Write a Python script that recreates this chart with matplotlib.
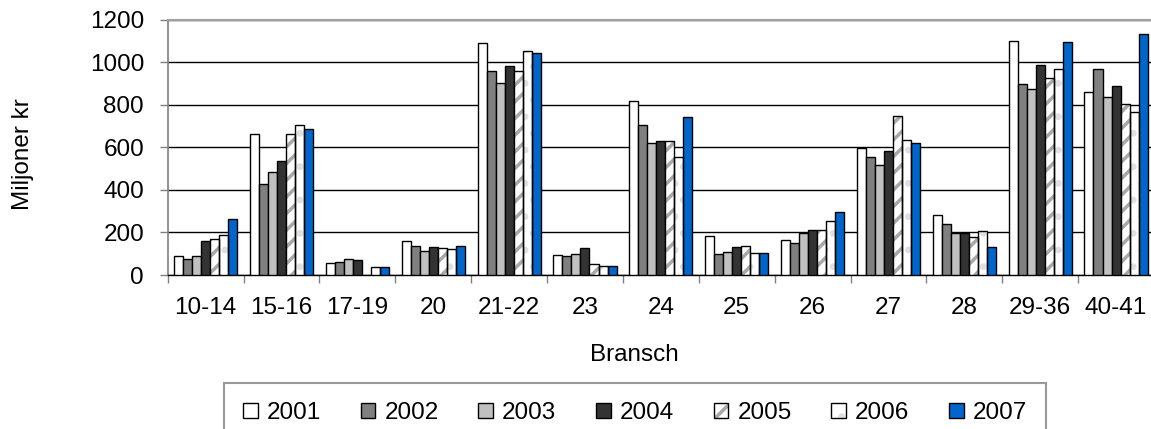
import numpy as np
import matplotlib
matplotlib.use("Agg")
import matplotlib.pyplot as plt
from matplotlib.patches import Patch

plt.rcParams['font.family'] = ['Liberation Sans', 'DejaVu Sans']
plt.rcParams['hatch.linewidth'] = 2.5

categories = ["10-14", "15-16", "17-19", "20", "21-22", "23", "24", "25", "26", "27", "28", "29-36", "40-41"]
years = ["2001", "2002", "2003", "2004", "2005", "2006", "2007"]

v2001 = [88, 661, 56, 158, 1089, 94, 819, 182, 163, 598, 282, 1101, 862]
v2002 = [75, 429, 63, 138, 957, 88, 703, 99, 149, 553, 238, 899, 970]
v2003 = [88, 484, 77, 113, 901, 100, 622, 107, 199, 515, 199, 874, 837]
v2004 = [158, 536, 69, 132, 981, 125, 628, 132, 213, 584, 199, 987, 887]
v2005 = [171, 661, np.nan, 125, 957, 50, 628, 138, 213, 749, 180, 924, 804]
v2006 = [190, 705, 38, 121, 1051, 42, 555, 105, 252, 634, 208, 970, 768]
v2007 = [265, 686, 38, 138, 1045, 42, 743, 105, 296, 622, 132, 1095, 1133]
series = [v2001, v2002, v2003, v2004, v2005, v2006, v2007]

faces = ['white', '#808080', '#c0c0c0', '#333333', 'white', 'white', '#0066cc']
hatches = [None, None, None, None, '//', '.', None]
hatch_cols = [None, None, None, None, '#a8a8a8', '#e0e0e0', None]

W, H = 1151, 429
fig = plt.figure(figsize=(W / 100, H / 100), dpi=100)
ax = fig.add_axes([167.7 / W, (H - 275) / H, (1154 - 167.7) / W, (275 - 19.7) / H])

x = np.arange(len(categories))
bw = 0.119
handles = []
for j, (vals, fc, ht, hc) in enumerate(zip(series, faces, hatches, hatch_cols)):
    pos = x + (j - 3) * bw
    if ht is None:
        ax.bar(pos, vals, width=bw, color=fc, edgecolor='black', linewidth=1.0, zorder=3)
        handles.append(Patch(facecolor=fc, edgecolor='black', linewidth=1.0))
    else:
        ax.bar(pos, vals, width=bw, color=fc, edgecolor=hc, linewidth=0, hatch=ht, zorder=3)
        ax.bar(pos, vals, width=bw, fill=False, edgecolor='black', linewidth=1.0, zorder=4)
        handles.append((Patch(facecolor=fc, edgecolor=hc, linewidth=0, hatch=ht),
                        Patch(fill=False, edgecolor='black', linewidth=1.0)))

ax.set_xlim(-0.5, len(categories) - 0.5)
ax.set_ylim(0, 1200)
ax.set_yticks(np.arange(0, 1201, 200))
ax.yaxis.grid(True, color='black', linewidth=1.0, zorder=0)
ax.set_axisbelow(True)

ax.set_xticks(np.arange(len(categories) + 1) - 0.5)
ax.set_xticklabels([])
ax.set_xticks(x, minor=True)
ax.set_xticklabels(categories, minor=True)
ax.tick_params(axis='x', which='major', length=6, width=1.0, color='#808080', direction='out')
ax.tick_params(axis='x', which='minor', length=0, pad=16, labelsize=17.5)
ax.tick_params(axis='y', which='major', length=6, width=1.0, color='#808080', pad=11, labelsize=17.5)

ax.spines['right'].set_visible(False)
ax.spines['top'].set_color('#a0a0a0')
ax.spines['top'].set_linewidth(1.5)
ax.spines['left'].set_color('#808080')
ax.spines['left'].set_linewidth(1.2)
ax.spines['bottom'].set_color('black')
ax.spines['bottom'].set_linewidth(1.0)

fig.text(634 / W, 1 - 355 / H, "Bransch", ha='center', va='center', fontsize=17.5)
fig.text(23 / W, 1 - 154 / H, "Miljoner kr", ha='center', va='center', rotation=90, fontsize=17.5)

leg = fig.legend(handles, years, loc='upper left', bbox_to_anchor=(224 / W, 1 - 383 / H),
                 ncol=7, fontsize=17.5, frameon=True, fancybox=False,
                 handlelength=0.6, handleheight=0.6, handletextpad=0.38,
                 columnspacing=1.63, borderpad=0.78, borderaxespad=0)
leg.get_frame().set_edgecolor('#808080')
leg.get_frame().set_linewidth(1.5)

fig.savefig("out.png", dpi=100)
